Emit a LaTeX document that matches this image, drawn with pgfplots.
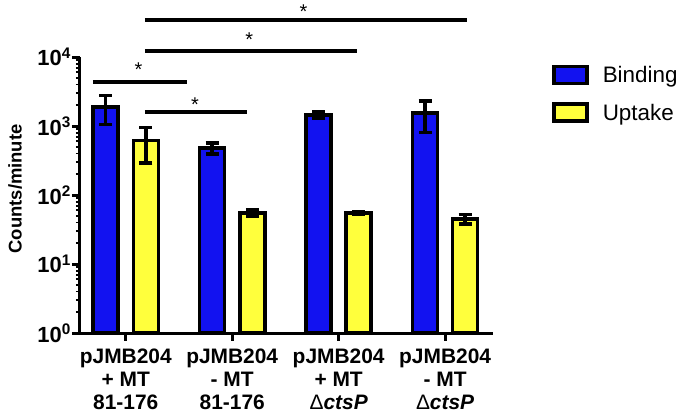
\documentclass[border=0pt]{standalone}
\usepackage{pgfplots}
\pgfplotsset{compat=1.18}
\usepackage{fontspec}
\setmainfont{Liberation Sans}
\definecolor{barblue}{RGB}{18,18,240}
\definecolor{baryellow}{RGB}{255,255,60}
\pgfplotstableread{
x y e
-0.1883 1900 850
0.8117 480 90
1.8117 1450 150
2.8117 1550 750
}\binding
\pgfplotstableread{
x y e
0.1883 620 330
1.1883 55 6
2.1883 55 3
3.1883 45 7
}\uptake
\begin{document}
\begin{tikzpicture}
\begin{axis}[
  at={(0,0)}, anchor=south west,
  scale only axis, width=413bp, height=276bp,
  ymode=log, ymin=1, ymax=10000,
  xmin=-0.43, xmax=3.45,
  axis x line*=bottom, axis y line*=left,
  axis line style={line width=3bp, black},
  clip=false,
  xtick={0,1,2,3},
  xticklabels={
    pJMB204\\+ MT\\81-176,
    pJMB204\\- MT\\81-176,
    pJMB204\\+ MT\\{\mdseries\upshape Δ}\textit{ctsP},
    pJMB204\\- MT\\{\mdseries\upshape Δ}\textit{ctsP}},
  xticklabel style={align=center, font=\bfseries\fontsize{21}{23}\selectfont, inner sep=2bp, yshift=-6bp},
  ytick={1,10,100,1000,10000},
  yticklabels={10\textsuperscript{0},10\textsuperscript{1},10\textsuperscript{2},10\textsuperscript{3},10\textsuperscript{4}},
  yticklabel style={font=\bfseries\fontsize{22}{22}\selectfont, inner sep=1bp},
  minor ytick={2,3,4,5,6,7,8,9,20,30,40,50,60,70,80,90,200,300,400,500,600,700,800,900,2000,3000,4000,5000,6000,7000,8000,9000},
  tick align=outside,
  major tick length=8bp, minor tick length=4bp,
  major tick style={line width=3bp, black},
  minor tick style={line width=1.8bp, black},
  ylabel={Counts/minute},
  ylabel style={font=\bfseries\fontsize{18.5}{20}\selectfont, at={(axis description cs:-0.157,0.522)}, anchor=center},
  legend style={at={(axis description cs:1.143,0.975)}, anchor=north west, draw=none, fill=none,
    inner sep=0pt, font=\fontsize{22.5}{22.5}\selectfont,
    /tikz/every odd column/.append style={column sep=12bp},
    /tikz/row sep=16bp},
  legend cell align=left,
  legend image code/.code={\draw[#1, line width=3.5bp] (0bp,-8.5bp) rectangle (33bp,8.5bp);},
]
\addplot[ybar, bar width=25bp, bar shift=0bp, fill=barblue, draw=black, line width=3.5bp,
  error bars/.cd, y dir=both, y explicit,
  error bar style={line width=3.5bp, black},
  error mark options={rotate=90, mark size=6.5bp, line width=3.5bp, black}]
  table[x=x, y=y, y error=e]{\binding};
\addlegendentry{Binding}
\addplot[ybar, bar width=25bp, bar shift=0bp, fill=baryellow, draw=black, line width=3.5bp,
  error bars/.cd, y dir=both, y explicit,
  error bar style={line width=3.5bp, black},
  error mark options={rotate=90, mark size=6.5bp, line width=3.5bp, black}]
  table[x=x, y=y, y error=e]{\uptake};
\addlegendentry{Uptake}
% significance bars
\draw[line width=3.5bp] (axis cs:-0.31,4345) -- (axis cs:0.575,4345);
\draw[line width=3.5bp] (axis cs:0.18,1595) -- (axis cs:1.14,1595);
\draw[line width=3.5bp] (axis cs:0.18,12220) -- (axis cs:2.17,12220);
\draw[line width=3.5bp] (axis cs:0.18,34370) -- (axis cs:3.21,34370);
\node[anchor=base, font=\fontsize{20}{20}\selectfont, yshift=5bp] at (axis cs:0.12,4345) {*};
\node[anchor=base, font=\fontsize{20}{20}\selectfont, yshift=1bp] at (axis cs:0.65,1595) {*};
\node[anchor=base, font=\fontsize{20}{20}\selectfont, yshift=4bp] at (axis cs:1.16,12220) {*};
\node[anchor=base, font=\fontsize{20}{20}\selectfont, yshift=2bp] at (axis cs:1.67,34370) {*};
\end{axis}
\pgfresetboundingbox
\path (-80bp,-81bp) rectangle (597bp,333bp);
\end{tikzpicture}
\end{document}
